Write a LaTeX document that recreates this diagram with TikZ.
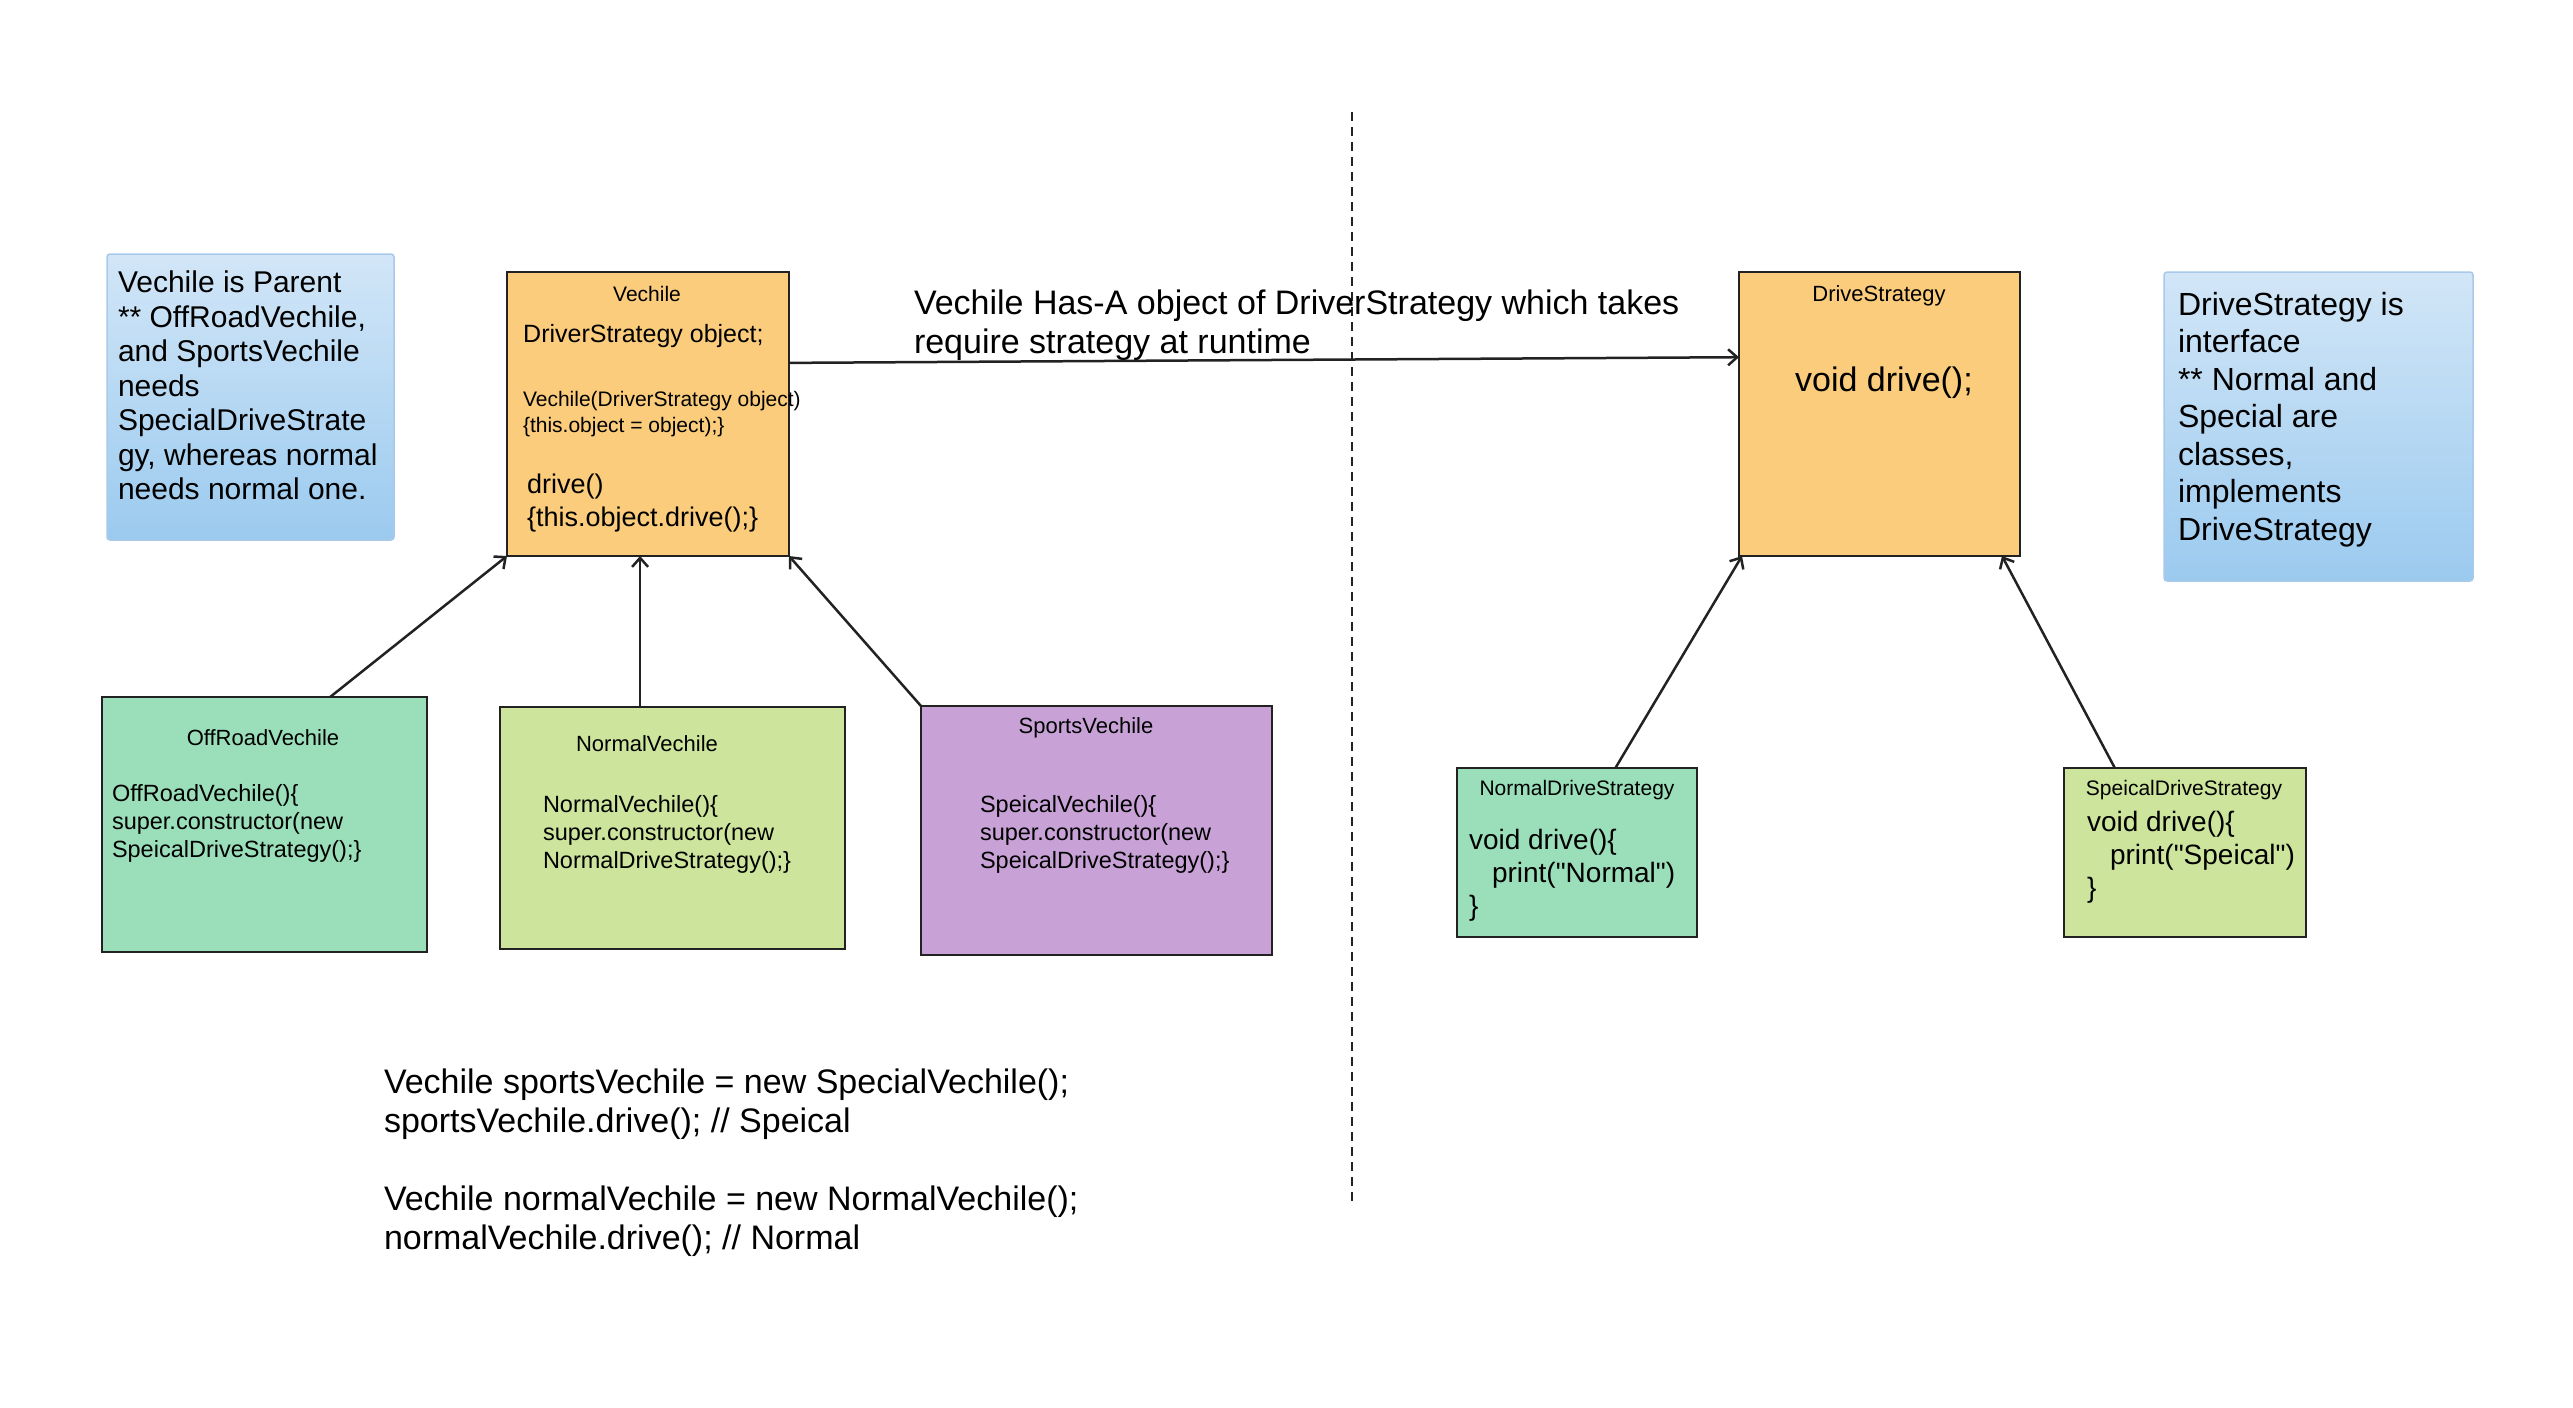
\documentclass[tikz,border=0pt]{standalone}
\usepackage{fontspec}
\setmainfont{Liberation Sans}
\usetikzlibrary{calc,arrows.meta}
\definecolor{orangebox}{HTML}{FACC7C}
\definecolor{greenbox}{HTML}{9ADFBA}
\definecolor{limebox}{HTML}{CCE49B}
\definecolor{purplebox}{HTML}{C8A2D7}
\definecolor{notetop}{HTML}{D2E6F7}
\definecolor{notebot}{HTML}{9BCAEF}
\definecolor{noteedge}{HTML}{A8C9EA}
\definecolor{ink}{HTML}{222222}
\newcommand{\fs}[2]{\fontsize{#1}{#2}\selectfont}
\begin{document}
\begin{tikzpicture}[x=1pt,y=-1pt,
  classbox/.style={draw=ink,line width=2.8pt,outer sep=0pt,inner sep=0pt},
  notebox/.style={draw=noteedge,line width=1.5pt,rounded corners=3pt,top color=notetop,bottom color=notebot,outer sep=0pt,inner sep=0pt},
  txt/.style={inner sep=0pt,outer sep=0pt,align=left,anchor=north west,text=black},
  ttl/.style={inner sep=0pt,outer sep=0pt,anchor=center,text=black},
  link/.style={draw=ink,line width=2.5pt,-{Straight Barb[length=9pt,width=16pt,line width=2.5pt]}}]
\useasboundingbox (0,0) rectangle (2573,1408);
% dashed separator
\coordinate (dtop) at (1352,112);
\coordinate (dbot) at (1352,1206);
\draw[ink,line width=2.2pt,dash pattern=on 9pt off 6pt] (dtop) -- (dbot);
% notes
\node[notebox,minimum width=287pt,minimum height=286pt] (lnote) at (250.5,397) {};
\node[txt,font=\fs{30}{34.5}] (lnotetxt) at (118,271) {Vechile is Parent\\** OffRoadVechile,\\and SportsVechile\\needs\\SpecialDriveStrate\\gy, whereas normal\\needs normal one.};
\node[notebox,minimum width=309pt,minimum height=309pt] (rnote) at (2318.5,426.5) {};
\node[txt,font=\fs{32}{37.5}] (rnotetxt) at (2178,292) {DriveStrategy is\\interface\\** Normal and\\Special are\\classes,\\implements\\DriveStrategy};
% Vechile
\node[classbox,fill=orangebox,minimum width=282pt,minimum height=284pt] (vech) at (648,414) {};
\node[ttl,font=\fs{21}{25}] (vechttl) at (647,294) {Vechile};
\node[inner sep=0pt,anchor=west,font=\fs{25}{30}] (vechfld) at (523,336) {DriverStrategy object;};
\node[txt,font=\fs{21}{26}] (vechctor) at (523,391) {Vechile(DriverStrategy object)\\\{this.object = object);\}};
\node[txt,font=\fs{27}{33}] (vechdrive) at (527,474) {drive()\\\{this.object.drive();\}};
% DriveStrategy
\node[classbox,fill=orangebox,minimum width=281pt,minimum height=284pt] (ds) at (1879.5,414) {};
\node[ttl,font=\fs{22}{26}] (dsttl) at (1879,296) {DriveStrategy};
\node[ttl,font=\fs{34}{39}] (dsm) at (1884,383) {void drive();};
% label
\node[txt,font=\fs{34}{39}] (haslbl) at (914,290) {Vechile Has-A object of DriverStrategy which takes\\require strategy at runtime};
% subclasses
\node[classbox,fill=greenbox,minimum width=325pt,minimum height=255pt] (off) at (264.5,824.5) {};
\node[ttl,font=\fs{22}{26}] (offttl) at (263,738) {OffRoadVechile};
\node[txt,font=\fs{23.5}{28}] (offcode) at (112,784) {OffRoadVechile()\{\\super.constructor(new\\SpeicalDriveStrategy();\}};
\node[classbox,fill=limebox,minimum width=345pt,minimum height=242pt] (nv) at (672.5,828) {};
\node[ttl,font=\fs{22}{26}] (nvttl) at (647,744) {NormalVechile};
\node[txt,font=\fs{23.5}{28}] (nvcode) at (543,795) {NormalVechile()\{\\super.constructor(new\\NormalDriveStrategy();\}};
\node[classbox,fill=purplebox,minimum width=351pt,minimum height=249pt] (sv) at (1096.5,830.5) {};
\node[ttl,font=\fs{22}{26}] (svttl) at (1086,728) {SportsVechile};
\node[txt,font=\fs{23.5}{28}] (svcode) at (980,795) {SpeicalVechile()\{\\super.constructor(new\\SpeicalDriveStrategy();\}};
% strategies
\node[classbox,fill=greenbox,minimum width=240pt,minimum height=169pt] (nds) at (1577,852.5) {};
\node[ttl,font=\fs{21}{25}] (ndsttl) at (1577,790) {NormalDriveStrategy};
\node[txt,font=\fs{28}{33}] (ndscode) at (1469,829) {void drive()\{\\\hspace*{23pt}print(\textquotedbl Normal\textquotedbl)\\\}};
\node[classbox,fill=limebox,minimum width=242pt,minimum height=169pt] (sds) at (2185,852.5) {};
\node[ttl,font=\fs{21}{25}] (sdsttl) at (2184,790) {SpeicalDriveStrategy};
\node[txt,font=\fs{28}{33}] (sdscode) at (2087,811) {void drive()\{\\\hspace*{23pt}print(\textquotedbl Speical\textquotedbl)\\\}};
% bottom code
\node[txt,font=\fs{34}{39}] (usage) at (384,1069) {Vechile sportsVechile = new SpecialVechile();\\sportsVechile.drive(); // Speical\\[39pt]Vechile normalVechile = new NormalVechile();\\normalVechile.drive(); // Normal};
% connectors
\draw[link] ($(off.north west)!0.702!(off.north east)$) -- (vech.south west);
\draw[link] ($(nv.north west)!0.406!(nv.north east)$) coordinate (nvtop) -- (nvtop |- vech.south);
\draw[link] (sv.north west) -- (vech.south east);
\draw[link] ($(vech.north east)!0.32!(vech.south east)$) -- ($(ds.north west)!0.30!(ds.south west)$);
\draw[link] ($(nds.north west)!0.66!(nds.north east)$) -- ($(ds.south west)+(3,0)$);
\draw[link] ($(sds.north west)!0.21!(sds.north east)$) -- ($(ds.south west)!0.936!(ds.south east)$);
\end{tikzpicture}
\end{document}
